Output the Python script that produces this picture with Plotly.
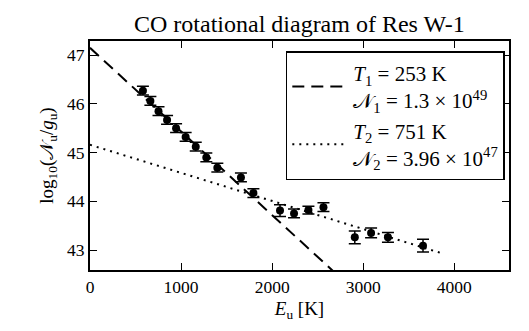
import plotly.graph_objects as go

# upper-level energies of the CO lines (K) and measured log10(N_u/g_u)
e_up = [581, 663, 752, 846, 945, 1050, 1161, 1277, 1398, 1657, 1794,
        2086, 2240, 2398, 2563, 2907, 3086, 3271, 3656]
log_ng = [46.27, 46.06, 45.85, 45.67, 45.50, 45.32, 45.12, 44.90, 44.69,
          44.49, 44.17, 43.81, 43.75, 43.82, 43.88, 43.26, 43.35, 43.26, 43.09]
log_ng_err = [0.09, 0.09, 0.09, 0.09, 0.09, 0.09, 0.09, 0.09, 0.09,
              0.09, 0.09, 0.12, 0.09, 0.08, 0.09, 0.13, 0.10, 0.10, 0.13]

# end points of the two fitted components
fit_x = [0, 3850]
fit1_y = [47.15, 40.54]
fit2_y = [45.16, 42.94]

x_ticks = [0, 1000, 2000, 3000, 4000]
y_ticks = [43, 44, 45, 46, 47]

FONT = "Liberation Serif"

fig = go.Figure()

fig.add_trace(go.Scatter(
    x=fit_x, y=fit1_y, mode="lines",
    line=dict(color="black", width=2, dash="12px,7px"),
    name="<i>T</i><sub>1</sub> = 253 K<br>𝒩<sub>1</sub> = 1.3 × 10<sup>49</sup>",
))
fig.add_trace(go.Scatter(
    x=fit_x, y=fit2_y, mode="lines",
    line=dict(color="black", width=2, dash="2px,5px"),
    name="<i>T</i><sub>2</sub> = 751 K<br>𝒩<sub>2</sub> = 3.96 × 10<sup>47</sup>",
))
fig.add_trace(go.Scatter(
    x=e_up, y=log_ng, mode="markers",
    marker=dict(color="black", size=8),
    error_y=dict(type="data", array=log_ng_err, color="black",
                 thickness=1.5, width=6),
    showlegend=False,
))

axis_common = dict(
    showgrid=False, zeroline=False, showline=True, linecolor="black",
    linewidth=2, mirror="allticks", ticks="inside", ticklen=7,
    tickwidth=1, tickcolor="black", automargin=False,
    tickfont=dict(family=FONT, size=17.5, color="black"),
)

fig.update_xaxes(range=[0, 4600], tickvals=x_ticks, **axis_common,
                 title=dict(text="<i>E</i><sub>u</sub> [K]",
                            font=dict(family=FONT, size=19, color="black"),
                            standoff=6))
fig.update_yaxes(range=[42.59, 47.29], tickvals=y_ticks, **axis_common,
                 title=dict(text="log<sub>10</sub>(𝒩<sub>u</sub>/<i>g</i><sub>u</sub>)",
                            font=dict(family=FONT, size=19, color="black"),
                            standoff=8))

fig.add_annotation(text="CO rotational diagram of Res W-1",
                   x=0.5, xref="paper", xanchor="center",
                   y=1, yref="paper", yanchor="bottom", yshift=2,
                   showarrow=False,
                   font=dict(family=FONT, size=24, color="black"))

# page body has an 8px margin, so the figure is shrunk by that much
fig.update_layout(
    width=521, height=323,
    margin=dict(l=82, r=20, t=33, b=61),
    paper_bgcolor="white", plot_bgcolor="white",
    font=dict(family=FONT, color="black"),
    legend=dict(x=0.99, y=0.955, xanchor="right", yanchor="top",
                bordercolor="black", borderwidth=1.5, bgcolor="white",
                font=dict(family=FONT, size=21, color="black"),
                tracegroupgap=0, itemwidth=56),
)

fig.write_html("out.html")
